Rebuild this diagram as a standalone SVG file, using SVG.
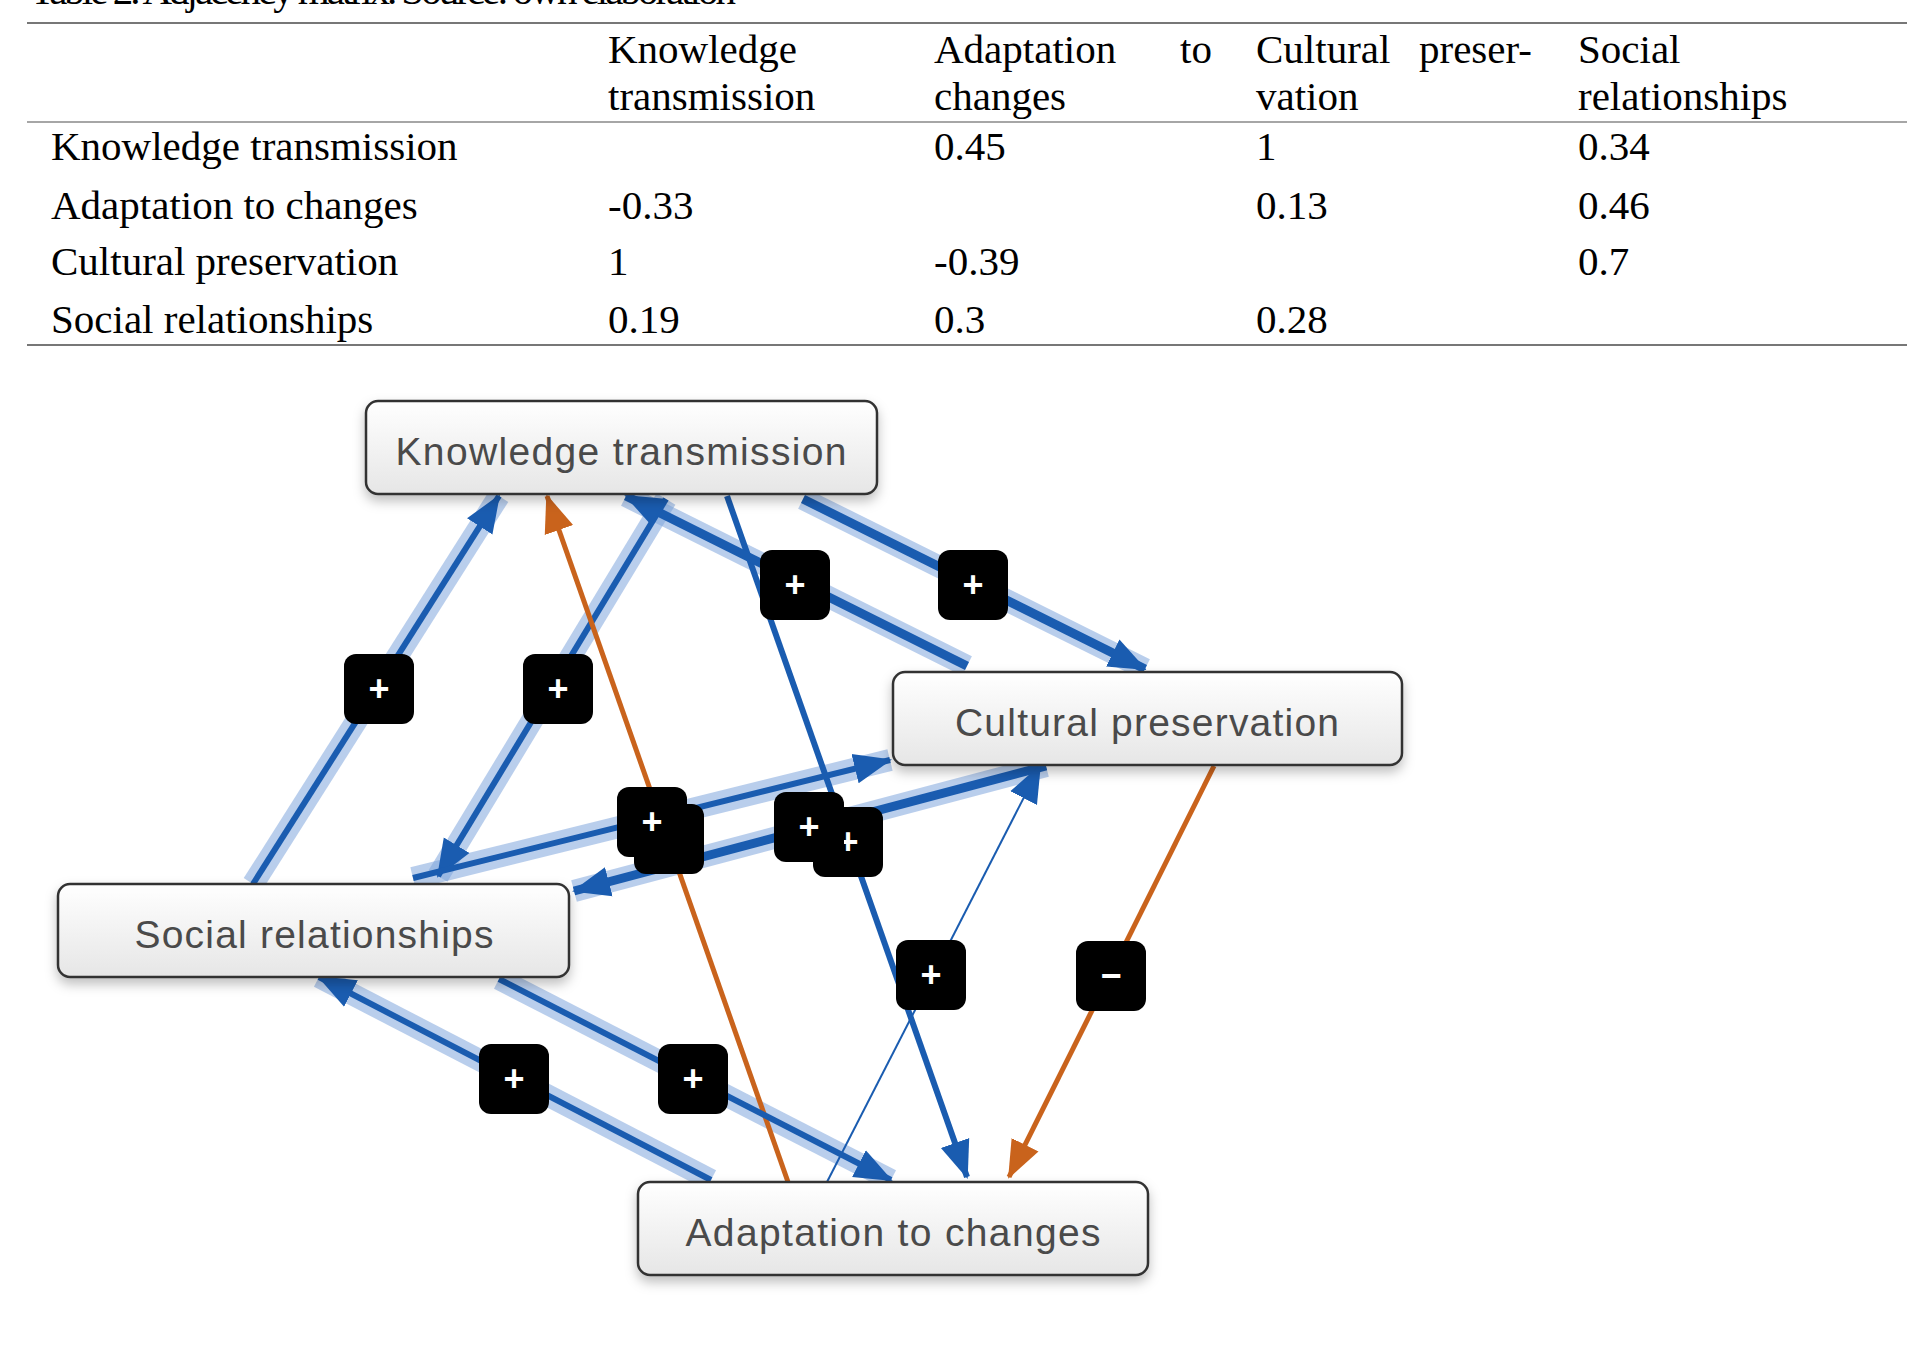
<svg xmlns="http://www.w3.org/2000/svg" width="1907" height="1347" viewBox="0 0 1907 1347">
<style>
.t{font-family:"Liberation Serif","Times New Roman",serif;font-size:41px;fill:#000}
.n rect{fill:url(#g);stroke:#333;stroke-width:2.5}
.n text{font-family:"Liberation Sans",Arial,sans-serif;font-size:39px;fill:#4a4a4a;text-anchor:middle}
.b{stroke:#1a5cb0;stroke-width:6;fill:none}
.bt{stroke:#1a5cb0;stroke-width:9;fill:none}
.h{stroke:#7fa6dc;stroke-opacity:.55;stroke-width:22;fill:none}
.o{stroke:#c9631c;stroke-width:5;fill:none}
.thin{stroke:#1a5cb0;stroke-width:2;fill:none}
.bd rect{fill:#000}
.bd text{font-family:"Liberation Sans",Arial,sans-serif;font-size:36px;fill:#fff;text-anchor:middle;font-weight:bold}
</style>
<defs>
<linearGradient id="g" x1="0" y1="0" x2="0" y2="1"><stop offset="0" stop-color="#fff"/><stop offset="1" stop-color="#e6e6e6"/></linearGradient>
<filter id="s" x="-10%" y="-20%" width="120%" height="150%"><feDropShadow dx="0" dy="6" stdDeviation="6" flood-color="#000" flood-opacity=".25"/></filter>
<marker id="ab" markerUnits="userSpaceOnUse" markerWidth="40" markerHeight="40" viewBox="0 0 40 40" refX="36" refY="20" orient="auto"><path d="M0,5 L38,20 L0,35 Z" fill="#1a5cb0"/></marker>
<marker id="ao" markerUnits="userSpaceOnUse" markerWidth="40" markerHeight="40" viewBox="0 0 40 40" refX="36" refY="20" orient="auto"><path d="M0,5 L38,20 L0,35 Z" fill="#c9631c"/></marker>
</defs>
<g id="table">
<text class="t" x="30" y="4" font-size="32" textLength="706">Table 2. Adjacency matrix. Source: own elaboration</text>
<line x1="27" y1="23" x2="1907" y2="23" stroke="#777" stroke-width="2"/>
<line x1="27" y1="122" x2="1907" y2="122" stroke="#888" stroke-width="1.5"/>
<line x1="27" y1="345" x2="1907" y2="345" stroke="#777" stroke-width="2"/>
<text class="t" x="608" y="63">Knowledge</text><text class="t" x="608" y="110">transmission</text>
<text class="t" x="934" y="63">Adaptation</text><text class="t" x="1180" y="63">to</text><text class="t" x="934" y="110">changes</text>
<text class="t" x="1256" y="63">Cultural</text><text class="t" x="1419" y="63">preser-</text><text class="t" x="1256" y="110">vation</text>
<text class="t" x="1578" y="63">Social</text><text class="t" x="1578" y="110">relationships</text>
<text class="t" x="51" y="160">Knowledge transmission</text><text class="t" x="934" y="160">0.45</text><text class="t" x="1256" y="160">1</text><text class="t" x="1578" y="160">0.34</text>
<text class="t" x="51" y="219">Adaptation to changes</text><text class="t" x="608" y="219">-0.33</text><text class="t" x="1256" y="219">0.13</text><text class="t" x="1578" y="219">0.46</text>
<text class="t" x="51" y="275">Cultural preservation</text><text class="t" x="608" y="275">1</text><text class="t" x="934" y="275">-0.39</text><text class="t" x="1578" y="275">0.7</text>
<text class="t" x="51" y="333">Social relationships</text><text class="t" x="608" y="333">0.19</text><text class="t" x="934" y="333">0.3</text><text class="t" x="1256" y="333">0.28</text>
</g>
<g id="connectors">
<line class="h" x1="967" y1="666" x2="626" y2="496" stroke-width="26"/>
<line class="h" x1="803" y1="499" x2="1145" y2="669" stroke-width="26"/>
<line class="h" x1="1046" y1="766" x2="574" y2="891" stroke-width="22"/>
<line class="h" x1="413" y1="878" x2="890" y2="760" stroke-width="14"/>
<line class="h" x1="253" y1="884" x2="499" y2="496" stroke-width="10"/>
<line class="h" x1="666" y1="499" x2="438" y2="876" stroke-width="10"/>
<line class="h" x1="711" y1="1180" x2="319" y2="977" stroke-width="14"/>
<line class="h" x1="499" y1="979" x2="891" y2="1180" stroke-width="10"/>
<line class="b" x1="253" y1="884" x2="499" y2="496" marker-end="url(#ab)"/>
<line class="b" x1="666" y1="499" x2="438" y2="876" marker-end="url(#ab)"/>
<line class="o" x1="788" y1="1182" x2="547" y2="496" marker-end="url(#ao)"/>
<line class="b" x1="727" y1="496" x2="967" y2="1177" marker-end="url(#ab)"/>
<line class="bt" x1="967" y1="666" x2="626" y2="496" marker-end="url(#ab)"/>
<line class="bt" x1="803" y1="499" x2="1145" y2="669" marker-end="url(#ab)"/>
<line class="b" x1="413" y1="878" x2="890" y2="760" marker-end="url(#ab)"/>
<line class="bt" x1="1046" y1="766" x2="574" y2="891" marker-end="url(#ab)"/>
<line class="thin" x1="827" y1="1182" x2="1040" y2="766" marker-end="url(#ab)"/>
<line class="o" x1="1214" y1="766" x2="1009" y2="1177" marker-end="url(#ao)"/>
<line class="b" x1="711" y1="1180" x2="319" y2="977" marker-end="url(#ab)"/>
<line class="b" x1="499" y1="979" x2="891" y2="1180" marker-end="url(#ab)"/>
</g>
<g id="badges" class="bd">
<g><rect x="344" y="654" width="70" height="70" rx="12"/><text x="379" y="701">+</text></g>
<g><rect x="523" y="654" width="70" height="70" rx="12"/><text x="558" y="701">+</text></g>
<g><rect x="760" y="550" width="70" height="70" rx="12"/><text x="795" y="597">+</text></g>
<g><rect x="938" y="550" width="70" height="70" rx="12"/><text x="973" y="597">+</text></g>
<g><rect x="634" y="804" width="70" height="70" rx="12"/></g>
<g><rect x="617" y="787" width="70" height="70" rx="12"/><text x="652" y="834">+</text></g>
<g><rect x="813" y="807" width="70" height="70" rx="12"/><text x="848" y="854">+</text></g>
<g><rect x="774" y="792" width="70" height="70" rx="12"/><text x="809" y="839">+</text></g>
<g><rect x="896" y="940" width="70" height="70" rx="12"/><text x="931" y="987">+</text></g>
<g><rect x="1076" y="941" width="70" height="70" rx="12"/><text x="1111" y="988">−</text></g>
<g><rect x="479" y="1044" width="70" height="70" rx="12"/><text x="514" y="1091">+</text></g>
<g><rect x="658" y="1044" width="70" height="70" rx="12"/><text x="693" y="1091">+</text></g>
</g>
<g id="kt" class="n"><rect x="366" y="401" width="511" height="93" rx="12" filter="url(#s)"/><text x="621" y="465" textLength="451">Knowledge transmission</text></g>
<g id="cp" class="n"><rect x="893" y="672" width="509" height="93" rx="12" filter="url(#s)"/><text x="1147" y="736" textLength="384">Cultural preservation</text></g>
<g id="sr" class="n"><rect x="58" y="884" width="511" height="93" rx="12" filter="url(#s)"/><text x="314" y="948" textLength="359">Social relationships</text></g>
<g id="ac" class="n"><rect x="638" y="1182" width="510" height="93" rx="12" filter="url(#s)"/><text x="893" y="1246" textLength="415">Adaptation to changes</text></g>
</svg>
